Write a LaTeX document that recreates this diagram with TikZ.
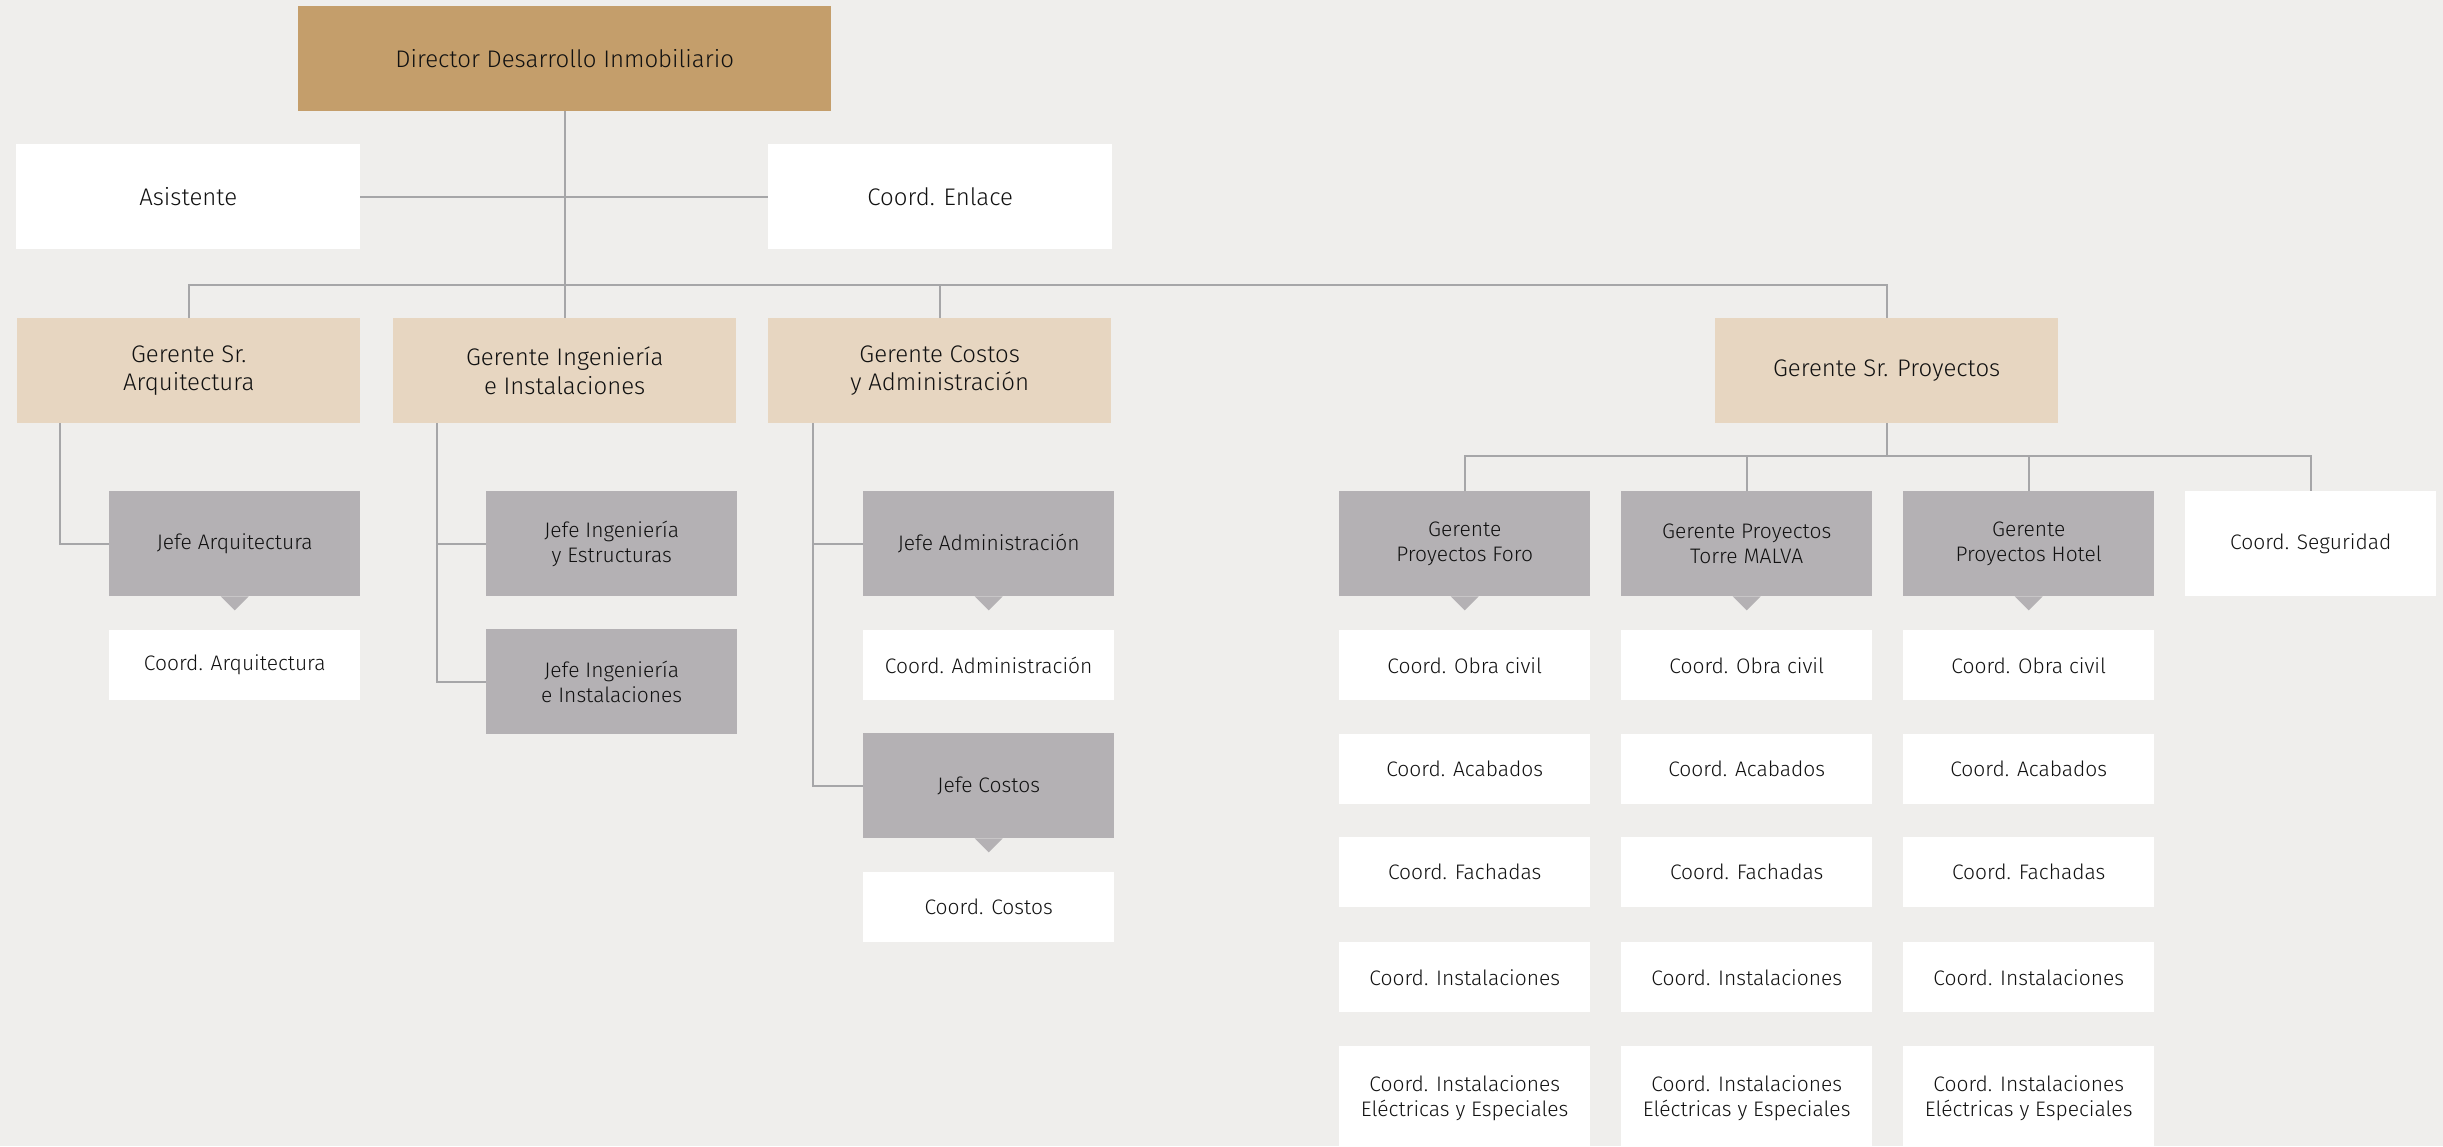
\documentclass[tikz,border=0pt]{standalone}
\usepackage{fontspec}
\setmainfont{Fira Sans}[UprightFont=* Light]
\usetikzlibrary{positioning}

\definecolor{bgcol}{HTML}{EFEEEC}
\definecolor{dircol}{HTML}{C49E6B}
\definecolor{mgrcol}{HTML}{E7D6C1}
\definecolor{jefecol}{HTML}{B4B1B4}
\definecolor{linecol}{HTML}{A6A6A8}
\definecolor{txtcol}{HTML}{111111}

\tikzset{
  box/.style={anchor=north west, inner sep=0pt, align=center, text=txtcol},
  bigtxt/.style={font=\fontsize{24}{28.5}\selectfont},
  smalltxt/.style={font=\fontsize{21}{25}\selectfont},
  dirbox/.style={box, bigtxt, fill=dircol, minimum width=533pt, minimum height=105pt},
  topbox/.style={box, bigtxt, fill=white, minimum width=344pt, minimum height=105pt},
  mgrbox/.style={box, bigtxt, fill=mgrcol, minimum width=343pt, minimum height=105pt},
  jefebox/.style={box, smalltxt, fill=jefecol, minimum width=251pt, minimum height=105pt},
  coordbox/.style={box, smalltxt, fill=white, minimum width=251pt, minimum height=70pt},
  tallcoord/.style={box, smalltxt, fill=white, minimum width=251pt, minimum height=105pt},
  link/.style={draw=linecol, line width=2pt},
  pointer/.style={fill=jefecol}
}

% draws the small downward notch under a grey box
\newcommand{\notch}[1]{\fill[pointer] (#1.south) ++(-14,0) -- ++(28,0) -- ++(-14,14) -- cycle;}

\begin{document}
\begin{tikzpicture}[x=1pt, y=-1pt]
  \fill[bgcol] (0,0) rectangle (2443,1146);
  \useasboundingbox (0,0) rectangle (2443,1146);

  % top level
  \node[dirbox] (dir) at (298,6) {Director Desarrollo Inmobiliario};
  \node[topbox] (asis) at (16,144) {Asistente};
  \node[topbox] (enl) at (768,144) {Coord. Enlace};

  % managers
  \node[mgrbox] (garq) at (17,318) {Gerente Sr.\\Arquitectura};
  \node[mgrbox] (ging) at (393,318) {Gerente Ingeniería\\e Instalaciones};
  \node[mgrbox] (gcos) at (768,318) {Gerente Costos\\y Administración};
  \node[mgrbox] (gpro) at (1715,318) {Gerente Sr. Proyectos};

  % architecture branch
  \node[jefebox] (jarq) at (109,491) {Jefe Arquitectura};
  \node[coordbox] (carq) at (109,630) {Coord. Arquitectura};

  % engineering branch
  \node[jefebox] (jest) at (486,491) {Jefe Ingeniería\\y Estructuras};
  \node[jefebox] (jins) at (486,629) {Jefe Ingeniería\\e Instalaciones};

  % costs and administration branch
  \node[jefebox] (jadm) at (863,491) {Jefe Administración};
  \node[coordbox] (cadm) at (863,630) {Coord. Administración};
  \node[jefebox] (jcos) at (863,733) {Jefe Costos};
  \node[coordbox] (ccos) at (863,872) {Coord. Costos};

  % projects branch
  \node[jefebox] (pforo) at (1339,491) {Gerente\\Proyectos Foro};
  \node[jefebox] (ptorre) at (1621,491) {Gerente Proyectos\\Torre MALVA};
  \node[jefebox] (photel) at (1903,491) {Gerente\\Proyectos Hotel};
  \node[coordbox, minimum height=105pt] (cseg) at (2185,491) {Coord. Seguridad};

  \foreach \col/\x in {foro/1339, torre/1621, hotel/1903} {
    \node[coordbox] (\col1) at (\x,630) {Coord. Obra civil};
    \node[coordbox] (\col2) at (\x,734) {Coord. Acabados};
    \node[coordbox] (\col3) at (\x,837) {Coord. Fachadas};
    \node[coordbox] (\col4) at (\x,942) {Coord. Instalaciones};
    \node[tallcoord] (\col5) at (\x,1046) {Coord. Instalaciones\\Eléctricas y Especiales};
  }

  % notches
  \notch{jarq}
  \notch{jadm}
  \notch{jcos}
  \notch{pforo}
  \notch{ptorre}
  \notch{photel}

  % connectors
  \draw[link] (dir.south) -- (ging.north);
  \draw[link] (asis.east) -- (enl.west);
  \draw[link] (garq.north) -- ++(0,-33) -| (gpro.north);
  \draw[link] (gcos.north) -- ++(0,-33);

  \draw[link] ([xshift=43pt]garq.south west) |- (jarq.west);
  \draw[link] ([xshift=44pt]ging.south west) |- (jins.west);
  \draw[link] (jest.west) -- ++(-49,0);
  \draw[link] ([xshift=45pt]gcos.south west) |- (jcos.west);
  \draw[link] (jadm.west) -- ++(-50,0);

  \draw[link] (gpro.south) -- ++(0,33);
  \draw[link] (pforo.north) -- ++(0,-35) -| (cseg.north);
  \draw[link] (ptorre.north) -- ++(0,-35);
  \draw[link] (photel.north) -- ++(0,-35);
\end{tikzpicture}
\end{document}
